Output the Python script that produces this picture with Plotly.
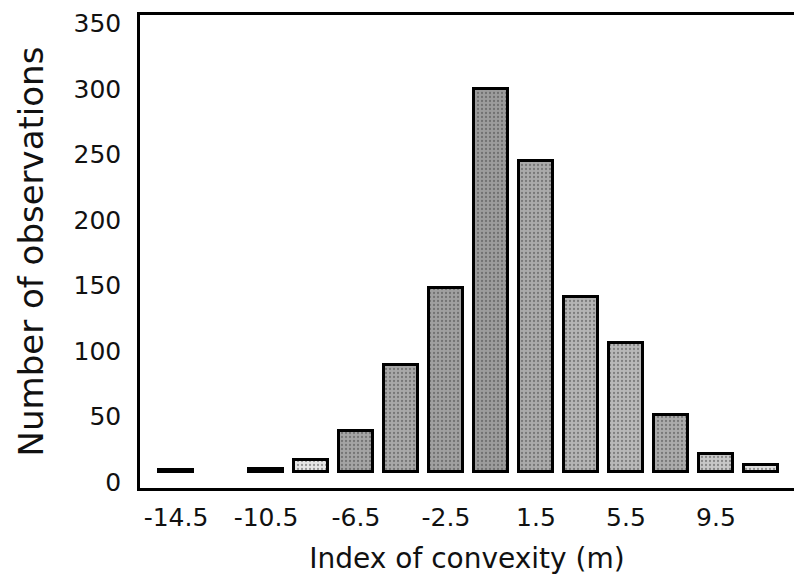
import plotly.graph_objects as go

# Bin centres of the index of convexity (m) and number of observations per bin
bin_centres = [-14.5, -10.5, -8.5, -6.5, -4.5, -2.5, -0.5, 1.5, 3.5, 5.5, 7.5, 9.5, 11.5]
observations = [1, 2, 9, 31, 81, 140, 292, 237, 133, 98, 43, 13, 5]
bar_greys = ["#111111", "#111111", "#e6e6e6", "#a4a4a4", "#a8a8a8", "#a0a0a0", "#9c9c9c",
             "#aaaaaa", "#b4b4b4", "#b8b8b8", "#ababab", "#c8c8c8", "#dedede"]

x_tick_values = [-14.5, -10.5, -6.5, -2.5, 1.5, 5.5, 9.5]
x_tick_labels = ["-14.5", "-10.5", "-6.5", "-2.5", "1.5", "5.5", "9.5"]
y_tick_values = [0, 50, 100, 150, 200, 250, 300, 350]

BASELINE = 8  # bars in the original figure rise from slightly above zero

fig = go.Figure()
fig.add_trace(go.Bar(
    x=bin_centres,
    y=observations,
    base=BASELINE,
    width=1.5,
    marker=dict(
        color=bar_greys,
        line=dict(color="black", width=3),
        pattern=dict(shape=".", fgcolor="#555555", size=4, solidity=0.25,
                     fillmode="overlay"),
    ),
    showlegend=False,
))

font_family = "DejaVu Sans"
fig.update_layout(
    width=794, height=587,
    margin=dict(l=140, r=0, t=15, b=99),
    paper_bgcolor="white", plot_bgcolor="white",
    font=dict(family=font_family, color="#111111"),
    bargap=0,
    xaxis=dict(
        range=[-16.1, 12.97],
        tickvals=x_tick_values, ticktext=x_tick_labels,
        tickfont=dict(size=25, color="#111111"),
        showline=True, linecolor="black", linewidth=2.5, mirror=True,
        showgrid=False, zeroline=False, ticks="",
        ticklabelstandoff=5,
        title=dict(text="Index of convexity (m)",
                   font=dict(size=28, color="#111111"),
                   standoff=18),
    ),
    yaxis=dict(
        range=[-4.6, 356.5],
        tickvals=y_tick_values,
        tickfont=dict(size=25, color="#111111"),
        showline=True, linecolor="black", linewidth=2.5, mirror=False,
        showgrid=False, zeroline=False, ticks="",
        ticklabelstandoff=11,
        title=dict(text="Number of observations",
                   font=dict(size=34, color="#111111"),
                   standoff=20),
    ),
)

fig.write_html("out.html")
